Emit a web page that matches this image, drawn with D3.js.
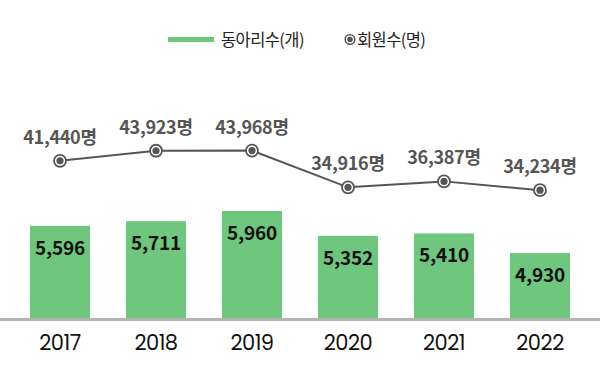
<!DOCTYPE html>
<html><head><meta charset="utf-8">
<script src="https://cdn.jsdelivr.net/npm/d3@7"></script>
<style>
html,body{margin:0;padding:0;background:#fff;}
svg{display:block;font-family:"Noto Sans CJK KR","Noto Sans",sans-serif;}
</style></head>
<body>
<svg id="chart" width="600" height="380"></svg>
<script>
const years = ["2017","2018","2019","2020","2021","2022"];
const clubs = [5596, 5711, 5960, 5352, 5410, 4930];
const members = [41440, 43923, 43968, 34916, 36387, 34234];
const legendLabels = ["동아리수(개)", "회원수(명)"];

const svg = d3.select("#chart");
const fmt = d3.format(",");

const x = d3.scaleBand().domain(years).range([12, 588]).paddingInner(0.375).paddingOuter(0.1875);
const yBar = d3.scaleLinear().domain([3340, 5960]).range([318, 211]);
const yLine = d3.scaleLinear().domain([31806, 46567]).range([200, 140]);

const green = "#6ec67f";
const gray = "#555555";

// bars
svg.selectAll("rect.bar").data(years).enter().append("rect")
  .attr("class","bar")
  .attr("x", d => x(d))
  .attr("width", x.bandwidth())
  .attr("y", (d,i) => yBar(clubs[i]))
  .attr("height", (d,i) => yBar.range()[0] - yBar(clubs[i]))
  .attr("fill", green);

// bar labels
svg.selectAll("text.blab").data(years).enter().append("text")
  .attr("class","blab")
  .attr("x", d => x(d) + x.bandwidth()/2)
  .attr("y", (d,i) => yBar(clubs[i]) + 29)
  .attr("text-anchor","middle")
  .attr("font-size", 19).attr("font-weight", 700)
  .attr("letter-spacing", "-0.2px")
  .attr("fill", "#111")
  .text((d,i) => fmt(clubs[i]));

// axis
const axis = svg.append("g").attr("transform","translate(0,319.5)")
  .call(d3.axisBottom(x).tickSize(0).tickPadding(0));
axis.select(".domain").remove();
svg.append("line").attr("x1",0).attr("x2",600).attr("y1",319.5).attr("y2",319.5)
  .attr("stroke","#b3b3b3").attr("stroke-width",3);
axis.selectAll("text")
  .attr("y", 30.5).attr("dy", 0)
  .attr("font-family", "Poppins, 'Noto Sans', sans-serif")
  .attr("font-size", 21).attr("fill","#111")
  .attr("letter-spacing","-0.5px");

// line
const line = d3.line().x((d,i) => x(years[i]) + x.bandwidth()/2).y(d => yLine(d));
svg.append("path").datum(members).attr("d", line)
  .attr("fill","none").attr("stroke", gray).attr("stroke-width", 2);

const pts = svg.selectAll("g.pt").data(members).enter().append("g")
  .attr("class","pt")
  .attr("transform",(d,i) => `translate(${x(years[i]) + x.bandwidth()/2},${yLine(d)})`);
pts.append("circle").attr("r", 6).attr("fill","#fff").attr("stroke", gray).attr("stroke-width", 1.8);
pts.append("circle").attr("r", 3.6).attr("fill", gray);

svg.selectAll("text.llab").data(members).enter().append("text")
  .attr("class","llab")
  .attr("x", (d,i) => x(years[i]) + x.bandwidth()/2)
  .attr("y", d => yLine(d) - 17)
  .attr("text-anchor","middle")
  .attr("font-size", 18).attr("font-weight", 700)
  .attr("letter-spacing", "-0.3px")
  .attr("fill", gray)
  .text(d => fmt(d) + "명");

// legend
const lg = svg.append("g");
lg.append("line").attr("x1",168).attr("x2",214).attr("y1",39.5).attr("y2",39.5)
  .attr("stroke", green).attr("stroke-width",5);
lg.append("text").attr("x",221).attr("y",45.5).attr("font-size",16.5).attr("fill","#222")
  .attr("letter-spacing","-0.6px").text(legendLabels[0]);
const lm = lg.append("g").attr("transform","translate(350,39.5)");
lm.append("circle").attr("r",4.8).attr("fill","#fff").attr("stroke",gray).attr("stroke-width",1.5);
lm.append("circle").attr("r",2.8).attr("fill",gray);
lg.append("text").attr("x",357).attr("y",45.5).attr("font-size",16.5).attr("fill","#222")
  .attr("letter-spacing","-0.6px").text(legendLabels[1]);
</script>
</body></html>
